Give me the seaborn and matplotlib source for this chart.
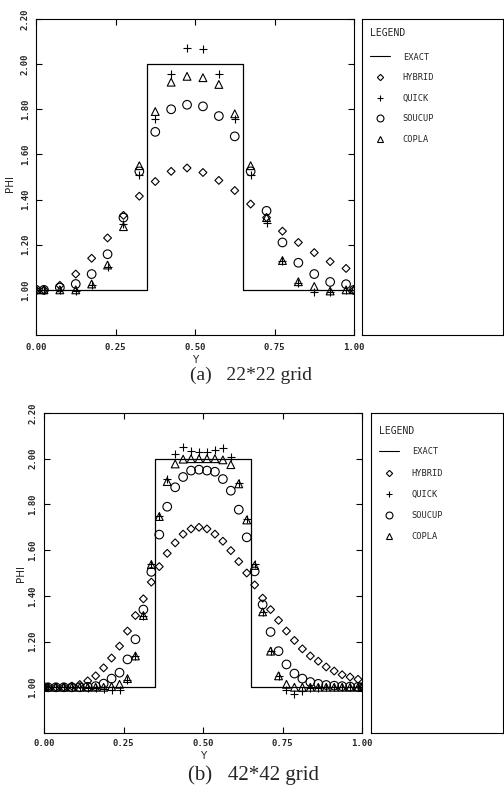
import matplotlib
matplotlib.use("Agg")
import matplotlib.pyplot as plt
import seaborn as sns
import pandas as pd
from matplotlib.lines import Line2D

# ===========================
# DATA: panel (a) 22*22 grid
# ===========================
y_22 = [0.0, 0.025, 0.075, 0.125, 0.175, 0.225, 0.275, 0.325, 0.375, 0.425, 0.475,
        0.525, 0.575, 0.625, 0.675, 0.725, 0.775, 0.825, 0.875, 0.925, 0.975, 1.0]
hybrid_22 = [1.0, 1.0, 1.02, 1.07, 1.14, 1.23, 1.33, 1.415, 1.48, 1.525, 1.54,
             1.52, 1.485, 1.44, 1.38, 1.32, 1.26, 1.21, 1.165, 1.125, 1.095, 1.0]
quick_22 = [1.0, 1.0, 1.0, 0.995, 1.02, 1.10, 1.29, 1.51, 1.755, 1.955, 2.07,
            2.065, 1.955, 1.757, 1.51, 1.295, 1.13, 1.03, 0.99, 0.99, 1.0, 1.0]
soucup_22 = [1.0, 1.0, 1.01, 1.026, 1.07, 1.158, 1.32, 1.525, 1.70, 1.80, 1.82,
             1.813, 1.77, 1.68, 1.525, 1.35, 1.21, 1.12, 1.07, 1.035, 1.025, 1.0]
copla_22 = [1.0, 1.0, 1.0, 1.0, 1.026, 1.11, 1.28, 1.55, 1.79, 1.92, 1.946,
            1.94, 1.91, 1.78, 1.55, 1.32, 1.13, 1.036, 1.015, 0.995, 1.0, 1.0]

# ===========================
# DATA: panel (b) 42*42 grid
# ===========================
y_42 = [0.0, 0.0125, 0.0375, 0.0625, 0.0875, 0.1125, 0.1375, 0.1625, 0.1875, 0.2125,
        0.2375, 0.2625, 0.2875, 0.3125, 0.3375, 0.3625, 0.3875, 0.4125, 0.4375, 0.4625,
        0.4875, 0.5125, 0.5375, 0.5625, 0.5875, 0.6125, 0.6375, 0.6625, 0.6875, 0.7125,
        0.7375, 0.7625, 0.7875, 0.8125, 0.8375, 0.8625, 0.8875, 0.9125, 0.9375, 0.9625,
        0.9875, 1.0]
hybrid_42 = [1.0, 1.0, 1.0, 1.0, 1.005, 1.012, 1.028, 1.05, 1.085, 1.128,
             1.18, 1.246, 1.314, 1.387, 1.46, 1.528, 1.586, 1.632, 1.67, 1.693,
             1.70, 1.693, 1.67, 1.639, 1.598, 1.55, 1.50, 1.448, 1.39, 1.34,
             1.293, 1.246, 1.205, 1.168, 1.137, 1.114, 1.089, 1.071, 1.055, 1.045,
             1.035, 1.0]
quick_42 = [1.0, 1.0, 1.0, 1.0, 1.0, 1.0, 0.998, 0.996, 0.993, 0.99,
            0.987, 1.03, 1.135, 1.31, 1.54, 1.75, 1.91, 2.02, 2.05, 2.035,
            2.03, 2.03, 2.04, 2.047, 2.006, 1.895, 1.735, 1.54, 1.33, 1.16,
            1.05, 0.99, 0.972, 0.984, 0.995, 0.998, 1.0, 1.0, 1.0, 1.0,
            1.0, 1.0]
soucup_42 = [1.0, 1.0, 1.0, 1.0, 1.0, 1.0, 1.002, 1.005, 1.016, 1.038,
             1.064, 1.122, 1.21, 1.34, 1.505, 1.668, 1.79, 1.875, 1.92, 1.948,
             1.952, 1.948, 1.943, 1.911, 1.86, 1.777, 1.656, 1.507, 1.362, 1.242,
             1.158, 1.10, 1.06, 1.038, 1.023, 1.015, 1.01, 1.007, 1.005, 1.003,
             1.002, 1.0]
copla_42 = [1.0, 1.0, 1.0, 1.0, 1.0, 1.0, 1.0, 1.0, 1.0, 1.003,
            1.013, 1.038, 1.137, 1.314, 1.537, 1.747, 1.90, 1.977, 1.998, 2.0,
            2.0, 2.0, 2.0, 1.995, 1.974, 1.89, 1.732, 1.533, 1.33, 1.158,
            1.05, 1.013, 1.0, 1.0, 1.0, 1.0, 1.0, 1.0, 1.0, 1.0,
            1.0, 1.0]

# exact solution (step profile)
exact_y = [0.0, 0.35, 0.35, 0.65, 0.65, 1.0]
exact_phi = [1.0, 1.0, 2.0, 2.0, 1.0, 1.0]

x_ticks = [0.0, 0.25, 0.50, 0.75, 1.00]
y_ticks = [1.0, 1.2, 1.4, 1.6, 1.8, 2.0, 2.2]

SCHEMES = ["HYBRID", "QUICK", "SOUCUP", "COPLA"]
# marker, size (pt)
MARKERS = {"HYBRID": ("D", 4.0), "QUICK": ("+", 5.5), "SOUCUP": ("o", 6.2), "COPLA": ("^", 5.6)}

# ===========================
# STYLE
# ===========================
sns.set_style("ticks")
plt.rcParams["font.family"] = ["DejaVu Sans"]
plt.rcParams["axes.linewidth"] = 0.8
plt.rcParams["axes.edgecolor"] = "black"

W, H = 504, 798
fig = plt.figure(figsize=(W / 100, H / 100), dpi=100)


def px_rect(left, top, right, bottom):
    # pixel box -> figure fraction [l, b, w, h]
    return [left / W, 1 - bottom / H, (right - left) / W, (bottom - top) / H]


def draw_panel(ax, y, hybrid, quick, soucup, copla, tick_pad_x, tick_pad_y, ylab_x, xlab_y, ylab_y):
    df = pd.DataFrame({
        "Y": y * 4,
        "PHI": hybrid + quick + soucup + copla,
        "scheme": sum([[s] * len(y) for s in SCHEMES], []),
    })
    sns.lineplot(x=exact_y, y=exact_phi, ax=ax, sort=False, estimator=None,
                 color="black", linewidth=0.9)
    for s in SCHEMES:
        sub = df[df["scheme"] == s]
        m, ms = MARKERS[s]
        if m == "+":
            sns.scatterplot(data=sub, x="Y", y="PHI", ax=ax, marker=m, s=ms ** 2,
                            color="black", linewidth=0.8, zorder=3)
        else:
            sns.scatterplot(data=sub, x="Y", y="PHI", ax=ax, marker=m, s=ms ** 2,
                            facecolor="none", edgecolor="black", linewidth=0.8, zorder=3)
    ax.set_xlim(0, 1)
    ax.set_ylim(0.8, 2.2)
    ax.set_xticks(x_ticks)
    ax.set_yticks(y_ticks)
    ax.set_xticklabels(["%.2f" % v for v in x_ticks])
    ax.set_yticklabels(["%.2f" % v for v in y_ticks])
    ax.tick_params(direction="in", top=True, right=True, length=4, width=0.8, color="black")
    ax.tick_params(axis="x", pad=tick_pad_x)
    ax.tick_params(axis="y", pad=tick_pad_y)
    for lab in ax.get_xticklabels() + ax.get_yticklabels():
        lab.set_fontfamily("DejaVu Sans Mono")
        lab.set_fontweight("bold")
        lab.set_fontsize(6.5)
    for lab in ax.get_yticklabels():
        lab.set_rotation(90)
        lab.set_va("center")
    ax.set_xlabel("Y", fontsize=7.5)
    ax.set_ylabel("PHI", fontsize=7.5)
    ax.xaxis.set_label_coords(0.5, xlab_y)
    ax.yaxis.set_label_coords(ylab_x, ylab_y)
    for sp in ax.spines.values():
        sp.set_visible(True)
        sp.set_linewidth(0.8)


def draw_legend(lax, box_w, box_h, title_dy, rows_dy, spacing):
    lax.set_xticks([])
    lax.set_yticks([])
    for sp in lax.spines.values():
        sp.set_visible(True)
        sp.set_linewidth(0.8)
    lax.text(8 / box_w, 1 - title_dy / box_h, "LEGEND", transform=lax.transAxes,
             family="DejaVu Sans Mono", fontsize=7, ha="left", va="center")
    handles = [Line2D([], [], color="black", linewidth=0.8)]
    for s in SCHEMES:
        m, ms = MARKERS[s]
        handles.append(Line2D([], [], linestyle="none", marker=m, markersize=ms * 0.8,
                              markerfacecolor="none", markeredgecolor="black",
                              markeredgewidth=0.8))
    labels = ["EXACT"] + SCHEMES
    lax.legend(handles, labels, loc="upper left",
               bbox_to_anchor=(8 / box_w, 1 - rows_dy / box_h),
               frameon=False, prop={"family": "DejaVu Sans Mono", "size": 6.2},
               handlelength=2.3, handletextpad=1.5, labelspacing=spacing,
               borderpad=0, borderaxespad=0)


# ===========================
# PANEL (a)
# ===========================
ax_a = fig.add_axes(px_rect(36, 19, 354, 335))
draw_panel(ax_a, y_22, hybrid_22, quick_22, soucup_22, copla_22,
           tick_pad_x=6, tick_pad_y=4.5, ylab_x=-0.065, xlab_y=-0.063, ylab_y=0.48)
leg_a = fig.add_axes(px_rect(362, 19, 503, 335))
draw_legend(leg_a, 141, 316, title_dy=14, rows_dy=33.5, spacing=1.34)
fig.text(190 / W, 1 - 375 / H, "(a)   22*22 grid", family="Liberation Serif",
         fontsize=14, ha="left", va="center")

# ===========================
# PANEL (b)
# ===========================
ax_b = fig.add_axes(px_rect(44, 413, 362, 733))
draw_panel(ax_b, y_42, hybrid_42, quick_42, soucup_42, copla_42,
           tick_pad_x=4.5, tick_pad_y=5, ylab_x=-0.058, xlab_y=-0.056, ylab_y=0.5)
leg_b = fig.add_axes(px_rect(371, 413, 503, 733))
draw_legend(leg_b, 132, 320, title_dy=17.7, rows_dy=34.5, spacing=1.40)
fig.text(188 / W, 1 - 775 / H, "(b)   42*42 grid", family="Liberation Serif",
         fontsize=15, ha="left", va="center")

fig.savefig("out.png", dpi=100)
